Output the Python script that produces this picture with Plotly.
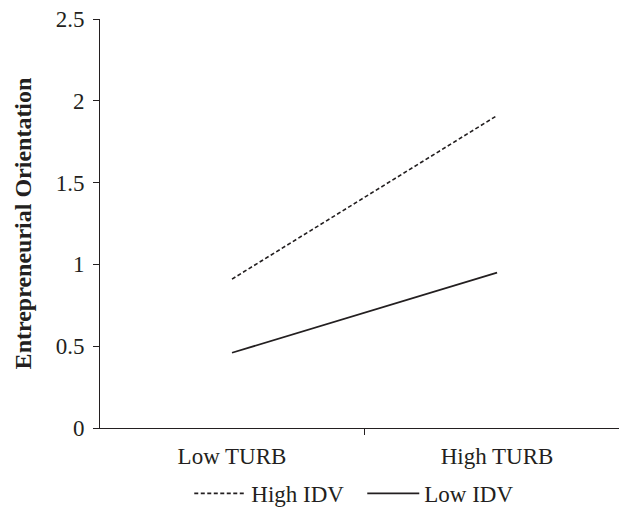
import plotly.graph_objects as go

categories = ["Low TURB", "High TURB"]
high_idv = [0.91, 1.91]
low_idv = [0.46, 0.95]
y_ticks = [0, 0.5, 1, 1.5, 2, 2.5]
y_ticktext = ["0", "0.5", "1", "1.5", "2", "2.5"]

xpos = list(range(len(categories)))
font_family = "Liberation Serif"
ink = "#231f20"

fig = go.Figure()
fig.add_trace(go.Scatter(x=xpos, y=high_idv, mode="lines", name="High IDV",
                         line=dict(color=ink, width=1.6, dash="4px,2.5px")))
fig.add_trace(go.Scatter(x=xpos, y=low_idv, mode="lines", name="Low IDV",
                         line=dict(color=ink, width=1.8)))

fig.update_layout(
    width=619, height=510,
    margin=dict(l=100, r=0, t=19, b=82, autoexpand=False),
    paper_bgcolor="white", plot_bgcolor="white",
    font=dict(family=font_family, size=23, color=ink),
    showlegend=True,
    legend=dict(orientation="h", x=0.172, xanchor="left", y=-0.16, yanchor="middle",
                font=dict(size=23), itemwidth=52, entrywidth=106, entrywidthmode="pixels",
                tracegroupgap=0, bgcolor="rgba(0,0,0,0)"),
    xaxis=dict(range=[-0.498, 1.46], tickvals=xpos, ticktext=categories,
               ticks="", showgrid=False, zeroline=False,
               showline=True, linecolor=ink, linewidth=1,
               minor=dict(tick0=-0.5, dtick=1, ticks="outside", ticklen=6,
                          tickcolor=ink, showgrid=False),
               tickfont=dict(size=23), ticklabelstandoff=7, fixedrange=True),
    yaxis=dict(range=[0, 2.5], tickvals=y_ticks, ticktext=y_ticktext,
               ticks="outside", ticklen=6, tickcolor=ink,
               showgrid=False, zeroline=False,
               showline=True, linecolor=ink, linewidth=1,
               tickfont=dict(size=23), ticklabelstandoff=4,
               title=dict(text="<b>Entrepreneurial Orientation</b>",
                          font=dict(size=24), standoff=17)),
)

fig.write_html("out.html", config={"displayModeBar": False},
               post_script="document.body.style.margin='0';document.body.style.padding='0';")
